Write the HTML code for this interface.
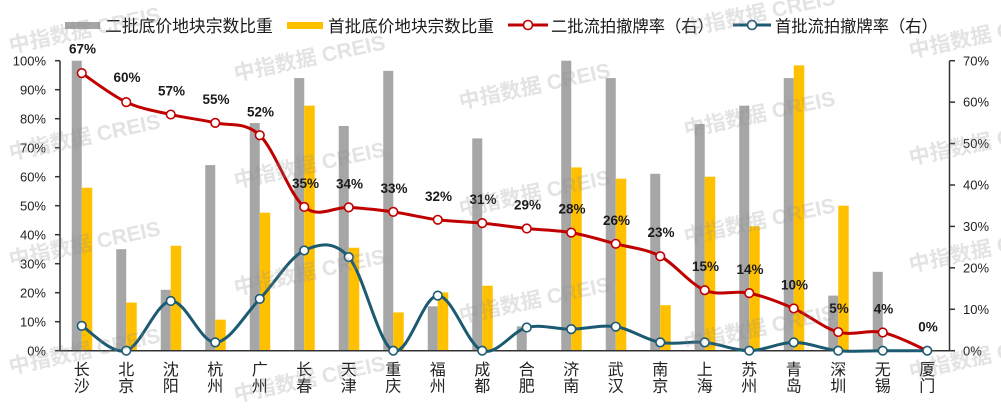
<!DOCTYPE html>
<html><head><meta charset="utf-8"><style>
html,body{margin:0;padding:0;background:#fff;width:1001px;height:408px;overflow:hidden;}
svg{display:block;overflow:hidden;}
text{font-family:"Liberation Sans","Noto Sans CJK SC",sans-serif;}
</style></head><body>
<svg width="1001" height="408" viewBox="0 0 1001 408" xmlns="http://www.w3.org/2000/svg">
<rect width="1001" height="408" fill="#fff"/>
<!-- bars grey -->
<g fill="#a6a6a6">
<rect x="71.75" y="60.7" width="10" height="290"/>
<rect x="116.25" y="249.2" width="10" height="101.5"/>
<rect x="160.75" y="289.8" width="10" height="60.9"/>
<rect x="205.25" y="165.1" width="10" height="185.6"/>
<rect x="249.75" y="123.05" width="10" height="227.65"/>
<rect x="294.25" y="78.1" width="10" height="272.6"/>
<rect x="338.75" y="125.95" width="10" height="224.75"/>
<rect x="383.25" y="70.85" width="10" height="279.85"/>
<rect x="427.75" y="306.33" width="10" height="44.37"/>
<rect x="472.25" y="138.42" width="10" height="212.28"/>
<rect x="516.75" y="326.34" width="10" height="24.36"/>
<rect x="561.25" y="60.7" width="10" height="290"/>
<rect x="605.75" y="78.1" width="10" height="272.6"/>
<rect x="650.25" y="173.8" width="10" height="176.9"/>
<rect x="694.75" y="123.92" width="10" height="226.78"/>
<rect x="739.25" y="105.65" width="10" height="245.05"/>
<rect x="783.75" y="78.1" width="10" height="272.6"/>
<rect x="828.25" y="295.6" width="10" height="55.1"/>
<rect x="872.75" y="271.82" width="10" height="78.88"/>
</g>
<!-- bars yellow -->
<g fill="#ffc000">
<rect x="81.75" y="187.72" width="10.5" height="162.98"/>
<rect x="126.25" y="302.56" width="10.5" height="48.14"/>
<rect x="170.75" y="245.72" width="10.5" height="104.98"/>
<rect x="215.25" y="319.67" width="10.5" height="31.03"/>
<rect x="259.75" y="212.66" width="10.5" height="138.04"/>
<rect x="304.25" y="105.65" width="10.5" height="245.05"/>
<rect x="348.75" y="247.75" width="10.5" height="102.95"/>
<rect x="393.25" y="312.42" width="10.5" height="38.28"/>
<rect x="437.75" y="292.41" width="10.5" height="58.29"/>
<rect x="482.25" y="285.74" width="10.5" height="64.96"/>
<rect x="571.25" y="167.42" width="10.5" height="183.28"/>
<rect x="615.75" y="178.73" width="10.5" height="171.97"/>
<rect x="660.25" y="305.17" width="10.5" height="45.53"/>
<rect x="704.75" y="176.7" width="10.5" height="174"/>
<rect x="749.25" y="226.29" width="10.5" height="124.41"/>
<rect x="793.75" y="65.34" width="10.5" height="285.36"/>
<rect x="838.25" y="205.7" width="10.5" height="145"/>
</g>
<!-- axes -->
<g stroke="#333" stroke-width="1.5" fill="none">
<line x1="60" y1="60.7" x2="60" y2="351"/>
<line x1="949.5" y1="60.7" x2="949.5" y2="351"/>
<line x1="59.5" y1="350.7" x2="950" y2="350.7"/>
<line x1="55" y1="60.7" x2="60" y2="60.7"/>
<line x1="55" y1="89.7" x2="60" y2="89.7"/>
<line x1="55" y1="118.7" x2="60" y2="118.7"/>
<line x1="55" y1="147.7" x2="60" y2="147.7"/>
<line x1="55" y1="176.7" x2="60" y2="176.7"/>
<line x1="55" y1="205.7" x2="60" y2="205.7"/>
<line x1="55" y1="234.7" x2="60" y2="234.7"/>
<line x1="55" y1="263.7" x2="60" y2="263.7"/>
<line x1="55" y1="292.7" x2="60" y2="292.7"/>
<line x1="55" y1="321.7" x2="60" y2="321.7"/>
<line x1="55" y1="350.7" x2="60" y2="350.7"/>
<line x1="949.5" y1="60.7" x2="955" y2="60.7"/>
<line x1="949.5" y1="102.13" x2="955" y2="102.13"/>
<line x1="949.5" y1="143.56" x2="955" y2="143.56"/>
<line x1="949.5" y1="184.99" x2="955" y2="184.99"/>
<line x1="949.5" y1="226.41" x2="955" y2="226.41"/>
<line x1="949.5" y1="267.84" x2="955" y2="267.84"/>
<line x1="949.5" y1="309.27" x2="955" y2="309.27"/>
<line x1="949.5" y1="350.7" x2="955" y2="350.7"/>
</g>
<!-- left axis labels -->
<g font-size="13" fill="#222" text-anchor="end">
<text x="46" y="65.3">100%</text>
<text x="46" y="94.3">90%</text>
<text x="46" y="123.3">80%</text>
<text x="46" y="152.3">70%</text>
<text x="46" y="181.3">60%</text>
<text x="46" y="210.3">50%</text>
<text x="46" y="239.3">40%</text>
<text x="46" y="268.3">30%</text>
<text x="46" y="297.3">20%</text>
<text x="46" y="326.3">10%</text>
<text x="46" y="355.3">0%</text>
</g>
<!-- right axis labels -->
<g font-size="13" fill="#222" text-anchor="start">
<text x="963" y="65.3">70%</text>
<text x="963" y="106.7">60%</text>
<text x="963" y="148.2">50%</text>
<text x="963" y="189.6">40%</text>
<text x="963" y="231">30%</text>
<text x="963" y="272.4">20%</text>
<text x="963" y="313.9">10%</text>
<text x="963" y="355.3">0%</text>
</g>
<!-- red line -->
<path fill="none" stroke="#c00000" stroke-width="3" stroke-linejoin="round" d="M81.75,73.13 C89.17,77.96 111.42,95.22 126.25,102.13 C141.08,109.04 155.92,111.11 170.75,114.56 C185.58,118.01 200.42,119.39 215.25,122.84 C230.08,126.29 244.92,121.25 259.75,135.27 C274.58,149.29 289.42,194.92 304.25,206.94 C319.08,218.96 333.92,206.53 348.75,207.36 C363.58,208.19 378.42,209.84 393.25,211.91 C408.08,213.98 422.92,217.92 437.75,219.79 C452.58,221.66 467.42,221.65 482.25,223.10 C497.08,224.55 511.92,226.90 526.75,228.49 C541.58,230.08 556.42,230.08 571.25,232.63 C586.08,235.18 600.92,239.87 615.75,243.81 C630.58,247.75 645.42,248.51 660.25,256.24 C675.08,263.97 689.92,284.06 704.75,290.21 C719.58,296.36 734.42,290.07 749.25,293.11 C764.08,296.15 778.92,301.95 793.75,308.44 C808.58,314.93 823.42,328.05 838.25,332.06 C853.08,336.07 867.92,329.36 882.75,332.47 C897.58,335.58 919.83,347.66 927.25,350.7"/>
<!-- blue line -->
<path fill="none" stroke="#1c5a72" stroke-width="3" stroke-linejoin="round" d="M81.75,325.84 C89.17,329.98 111.42,354.84 126.25,350.7 C141.08,346.56 155.92,302.37 170.75,300.99 C185.58,299.61 200.42,342.76 215.25,342.41 C230.08,342.06 244.92,314.24 259.75,298.91 C274.58,283.58 289.42,257.41 304.25,250.44 C319.08,243.47 333.92,240.36 348.75,257.07 C363.58,273.78 378.42,344.28 393.25,350.7 C408.08,357.12 422.92,295.60 437.75,295.60 C452.58,295.60 467.42,345.38 482.25,350.7 C497.08,356.02 511.92,331.09 526.75,327.50 C541.58,323.91 556.42,329.30 571.25,329.16 C586.08,329.02 600.92,324.46 615.75,326.67 C630.58,328.88 645.42,339.79 660.25,342.41 C675.08,345.03 689.92,341.03 704.75,342.41 C719.58,343.79 734.42,350.7 749.25,350.7 C764.08,350.7 778.92,342.41 793.75,342.41 C808.58,342.41 823.42,349.32 838.25,350.7 C853.08,352.08 867.92,350.7 882.75,350.7 C897.58,350.7 919.83,350.7 927.25,350.7"/>
<!-- red markers -->
<g fill="#fff" stroke="#c00000" stroke-width="1.6">
<circle cx="81.75" cy="73.13" r="4.3"/>
<circle cx="126.25" cy="102.13" r="4.3"/>
<circle cx="170.75" cy="114.56" r="4.3"/>
<circle cx="215.25" cy="122.84" r="4.3"/>
<circle cx="259.75" cy="135.27" r="4.3"/>
<circle cx="304.25" cy="206.94" r="4.3"/>
<circle cx="348.75" cy="207.36" r="4.3"/>
<circle cx="393.25" cy="211.91" r="4.3"/>
<circle cx="437.75" cy="219.79" r="4.3"/>
<circle cx="482.25" cy="223.10" r="4.3"/>
<circle cx="526.75" cy="228.49" r="4.3"/>
<circle cx="571.25" cy="232.63" r="4.3"/>
<circle cx="615.75" cy="243.81" r="4.3"/>
<circle cx="660.25" cy="256.24" r="4.3"/>
<circle cx="704.75" cy="290.21" r="4.3"/>
<circle cx="749.25" cy="293.11" r="4.3"/>
<circle cx="793.75" cy="308.44" r="4.3"/>
<circle cx="838.25" cy="332.06" r="4.3"/>
<circle cx="882.75" cy="332.47" r="4.3"/>
</g>
<!-- blue markers -->
<g fill="#fff" stroke="#1c5a72" stroke-width="1.6">
<circle cx="81.75" cy="325.84" r="4.3"/>
<circle cx="126.25" cy="350.7" r="4.3"/>
<circle cx="170.75" cy="300.99" r="4.3"/>
<circle cx="215.25" cy="342.41" r="4.3"/>
<circle cx="259.75" cy="298.91" r="4.3"/>
<circle cx="304.25" cy="250.44" r="4.3"/>
<circle cx="348.75" cy="257.07" r="4.3"/>
<circle cx="393.25" cy="350.7" r="4.3"/>
<circle cx="437.75" cy="295.60" r="4.3"/>
<circle cx="482.25" cy="350.7" r="4.3"/>
<circle cx="526.75" cy="327.50" r="4.3"/>
<circle cx="571.25" cy="329.16" r="4.3"/>
<circle cx="615.75" cy="326.67" r="4.3"/>
<circle cx="660.25" cy="342.41" r="4.3"/>
<circle cx="704.75" cy="342.41" r="4.3"/>
<circle cx="749.25" cy="350.7" r="4.3"/>
<circle cx="793.75" cy="342.41" r="4.3"/>
<circle cx="838.25" cy="350.7" r="4.3"/>
<circle cx="882.75" cy="350.7" r="4.3"/>
<circle cx="927.25" cy="350.7" r="4.3"/>
</g>
<!-- data labels -->
<g font-size="13.5" font-weight="bold" fill="#1a1a1a" text-anchor="middle">
<text x="82.5" y="53.5">67%</text>
<text x="127" y="82">60%</text>
<text x="171.5" y="95.6">57%</text>
<text x="216" y="103.8">55%</text>
<text x="260.5" y="116.3">52%</text>
<text x="305.5" y="188">35%</text>
<text x="349.5" y="188.4">34%</text>
<text x="394" y="192.9">33%</text>
<text x="438.5" y="200.8">32%</text>
<text x="483" y="204.1">31%</text>
<text x="527.5" y="209.5">29%</text>
<text x="572" y="213.6">28%</text>
<text x="616.5" y="224.8">26%</text>
<text x="661" y="237.2">23%</text>
<text x="705.5" y="271.2">15%</text>
<text x="750" y="274.1">14%</text>
<text x="794.5" y="289.4">10%</text>
<text x="839" y="313.1">5%</text>
<text x="883.5" y="313.5">4%</text>
<text x="928" y="331.7">0%</text>
</g>
<!-- category labels -->
<g font-size="16" fill="#222" text-anchor="middle">
<text x="81.75" y="375">长</text><text x="81.75" y="391.5">沙</text>
<text x="126.25" y="375">北</text><text x="126.25" y="391.5">京</text>
<text x="170.75" y="375">沈</text><text x="170.75" y="391.5">阳</text>
<text x="215.25" y="375">杭</text><text x="215.25" y="391.5">州</text>
<text x="259.75" y="375">广</text><text x="259.75" y="391.5">州</text>
<text x="304.25" y="375">长</text><text x="304.25" y="391.5">春</text>
<text x="348.75" y="375">天</text><text x="348.75" y="391.5">津</text>
<text x="393.25" y="375">重</text><text x="393.25" y="391.5">庆</text>
<text x="437.75" y="375">福</text><text x="437.75" y="391.5">州</text>
<text x="482.25" y="375">成</text><text x="482.25" y="391.5">都</text>
<text x="526.75" y="375">合</text><text x="526.75" y="391.5">肥</text>
<text x="571.25" y="375">济</text><text x="571.25" y="391.5">南</text>
<text x="615.75" y="375">武</text><text x="615.75" y="391.5">汉</text>
<text x="660.25" y="375">南</text><text x="660.25" y="391.5">京</text>
<text x="704.75" y="375">上</text><text x="704.75" y="391.5">海</text>
<text x="749.25" y="375">苏</text><text x="749.25" y="391.5">州</text>
<text x="793.75" y="375">青</text><text x="793.75" y="391.5">岛</text>
<text x="838.25" y="375">深</text><text x="838.25" y="391.5">圳</text>
<text x="882.75" y="375">无</text><text x="882.75" y="391.5">锡</text>
<text x="927.25" y="375">厦</text><text x="927.25" y="391.5">门</text>
</g>
<!-- legend -->
<rect x="65" y="22" width="35" height="7" fill="#a6a6a6"/>
<text x="105" y="32" font-size="16.8" fill="#1a1a1a">二批底价地块宗数比重</text>
<rect x="287" y="22" width="36" height="7" fill="#ffc000"/>
<text x="328" y="32" font-size="16.6" fill="#1a1a1a">首批底价地块宗数比重</text>
<line x1="508" y1="25" x2="548" y2="25" stroke="#c00000" stroke-width="3"/>
<circle cx="528" cy="25" r="4.5" fill="#fff" stroke="#c00000" stroke-width="1.6"/>
<text x="551" y="32" font-size="16.3" fill="#1a1a1a">二批流拍撤牌率（右）</text>
<line x1="733" y1="25" x2="771" y2="25" stroke="#1c5a72" stroke-width="3"/>
<circle cx="752" cy="25" r="4.5" fill="#fff" stroke="#1c5a72" stroke-width="1.6"/>
<text x="775" y="32" font-size="16.3" fill="#1a1a1a">首批流拍撤牌率（右）</text>
<!-- watermarks -->
<g font-size="21" font-weight="bold" fill="#8c8c8c" opacity="0.25" text-anchor="middle">
<text transform="translate(86,37) rotate(-12)">中指数据 CREIS</text>
<text transform="translate(86,144) rotate(-12)">中指数据 CREIS</text>
<text transform="translate(86,251) rotate(-12)">中指数据 CREIS</text>
<text transform="translate(86,358) rotate(-12)">中指数据 CREIS</text>
<text transform="translate(311,65) rotate(-12)">中指数据 CREIS</text>
<text transform="translate(311,172) rotate(-12)">中指数据 CREIS</text>
<text transform="translate(311,279) rotate(-12)">中指数据 CREIS</text>
<text transform="translate(311,386) rotate(-12)">中指数据 CREIS</text>
<text transform="translate(536,93) rotate(-12)">中指数据 CREIS</text>
<text transform="translate(536,200) rotate(-12)">中指数据 CREIS</text>
<text transform="translate(536,307) rotate(-12)">中指数据 CREIS</text>
<text transform="translate(761,20) rotate(-12)">中指数据 CREIS</text>
<text transform="translate(761,121) rotate(-12)">中指数据 CREIS</text>
<text transform="translate(761,228) rotate(-12)">中指数据 CREIS</text>
<text transform="translate(761,335) rotate(-12)">中指数据 CREIS</text>
<text transform="translate(986,42) rotate(-12)">中指数据 CREIS</text>
<text transform="translate(986,149) rotate(-12)">中指数据 CREIS</text>
<text transform="translate(986,256) rotate(-12)">中指数据 CREIS</text>
<text transform="translate(986,363) rotate(-12)">中指数据 CREIS</text>
</g>
</svg>
</body></html>
